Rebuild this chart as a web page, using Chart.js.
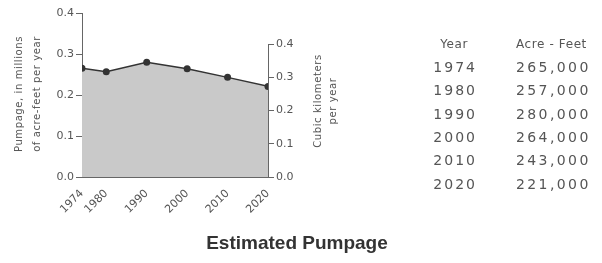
<!DOCTYPE html>
<html>
<head>
<meta charset="utf-8">
<script src="https://cdn.jsdelivr.net/npm/chart.js@4.4.1/dist/chart.umd.min.js"></script>
<style>
  body { margin: 0; background: #fff; }
  #wrap { position: relative; width: 602px; height: 263px; }
  #chartCanvas { position: absolute; left: 0; top: 0; }
  .lbl { position: absolute; font-family: "DejaVu Sans", sans-serif; color: #555; white-space: nowrap; }
  .axisTitle { font-size: 10px; text-align: center; transform: rotate(-90deg); transform-origin: center; letter-spacing: 0.6px; }
  .tbl { font-size: 14px; letter-spacing: 2.4px; }
  .hdr { font-size: 12px; letter-spacing: 0.6px; }
  #title { position: absolute; left: 0; width: 594px; top: 232px; text-align: center; font-family: "Liberation Sans", Arial, sans-serif; font-weight: bold; font-size: 19px; color: #333; }
</style>
</head>
<body>
<div id="wrap">
  <canvas id="chartCanvas" width="602" height="263"></canvas>
  <div class="lbl axisTitle" style="left:-37px; top:76px; width:130px; line-height:18px;">Pumpage, in millions<br>of acre-feet per year</div>
  <div class="lbl axisTitle" style="left:275px; top:86px; width:100px; line-height:15px;">Cubic kilometers<br>per year</div>
  <div id="table"></div>
  <div id="title">Estimated Pumpage</div>
</div>
<script>
// chart data
const years = [1974, 1980, 1990, 2000, 2010, 2020];
const acreFeet = [265000, 257000, 280000, 264000, 243000, 221000];
const leftTicks = [0, 0.1, 0.2, 0.3, 0.4];    // millions of acre-feet
const rightTicks = [0, 0.1, 0.2, 0.3, 0.4];   // cubic kilometers
const KM3_PER_MAF = 1.2335;                   // 1 million acre-ft in km3

const pumpage = acreFeet.map(v => v / 1e6);

// side table (html text)
const tableEl = document.getElementById('table');
function addText(txt, cls, style) {
  const d = document.createElement('div');
  d.className = 'lbl ' + cls;
  d.textContent = txt;
  d.style.cssText = style;
  tableEl.appendChild(d);
}
addText('Year', 'hdr', 'right:134px; top:37px;');
addText('Acre - Feet', 'hdr', 'left:516px; top:37px;');
years.forEach((y, i) => {
  const top = 59 + i * 23.3;
  addText(String(y), 'tbl', 'right:125px; top:' + top + 'px; letter-spacing:2px;');
  addText(acreFeet[i].toLocaleString('en-US'), 'tbl', 'left:516px; top:' + top + 'px;');
});

const tickColor = '#555';
const axisColor = '#666';
const tickFont = { family: 'DejaVu Sans', size: 11 };

// draws the right axis line only up to its top tick, like the original
const rightAxisLine = {
  id: 'rightAxisLine',
  afterDraw(chart) {
    const s = chart.scales.y2;
    const ctx = chart.ctx;
    ctx.save();
    ctx.strokeStyle = axisColor;
    ctx.lineWidth = 1;
    ctx.beginPath();
    ctx.moveTo(s.left + 0.5, s.getPixelForValue(rightTicks[rightTicks.length - 1]));
    ctx.lineTo(s.left + 0.5, s.getPixelForValue(0));
    ctx.stroke();
    ctx.restore();
  }
};

const ctx = document.getElementById('chartCanvas').getContext('2d');
new Chart(ctx, {
  type: 'line',
  data: {
    datasets: [{
      data: years.map((y, i) => ({ x: y, y: pumpage[i] })),
      borderColor: '#333',
      borderWidth: 1.5,
      backgroundColor: '#c9c9c9',
      fill: 'origin',
      pointRadius: 3.5,
      pointBackgroundColor: '#333',
      pointBorderWidth: 0,
      tension: 0
    }]
  },
  options: {
    responsive: false,
    animation: false,
    layout: { padding: { left: 0, right: 302, top: 13, bottom: 0 } },
    plugins: { legend: { display: false }, tooltip: { enabled: false } },
    scales: {
      x: {
        type: 'linear',
        min: years[0],
        max: years[years.length - 1],
        afterBuildTicks: s => { s.ticks = years.map(v => ({ value: v })); },
        afterFit: s => { s.height = 86; },
        grid: { display: false },
        border: { color: axisColor },
        ticks: {
          color: tickColor, font: tickFont, minRotation: 45, maxRotation: 45,
          padding: 2, callback: v => String(v)
        }
      },
      y: {
        position: 'left',
        min: 0,
        max: 0.4,
        afterBuildTicks: s => { s.ticks = leftTicks.map(v => ({ value: v })); },
        afterFit: s => { s.width = 82; },
        grid: { drawOnChartArea: false, tickLength: 6, color: axisColor },
        border: { color: axisColor },
        ticks: { color: tickColor, font: tickFont, padding: 2, callback: v => v.toFixed(1) }
      },
      y2: {
        position: 'right',
        min: 0,
        max: 0.4 * KM3_PER_MAF,
        afterBuildTicks: s => { s.ticks = rightTicks.map(v => ({ value: v })); },
        afterFit: s => { s.width = 32; },
        grid: { drawOnChartArea: false, tickLength: 6, color: axisColor },
        border: { display: false },
        ticks: { color: tickColor, font: tickFont, padding: 2, callback: v => v.toFixed(1) }
      }
    }
  },
  plugins: [rightAxisLine]
});
</script>
</body>
</html>
